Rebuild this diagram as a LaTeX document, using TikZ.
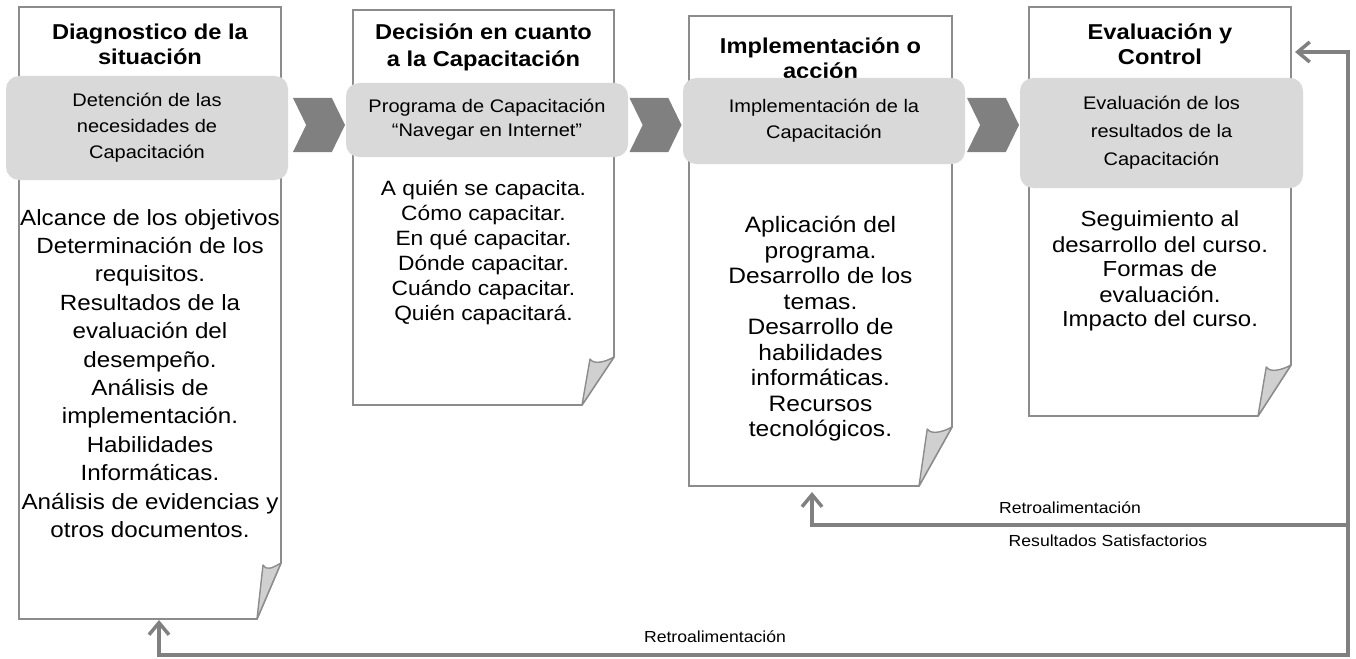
\documentclass[tikz,border=0pt]{standalone}
\usepackage{fontspec}
\setmainfont{Liberation Sans}[FakeStretch=1.1]
\usepackage{tikz}
\usetikzlibrary{shapes.symbols, arrows.meta, calc}

\definecolor{edgegray}{HTML}{8C8C8C}
\definecolor{bandgray}{HTML}{D9D9D9}
\definecolor{chevgray}{HTML}{808080}
\definecolor{flapgray}{HTML}{D0D0D0}

% page outline with a turned-up corner: node, fold width, fold height
\newcommand{\dogear}[3]{%
  \coordinate (#1_p) at ($(#1.south east)+(0,-#3)$);
  \coordinate (#1_b) at ($(#1.south east)+(-#2,0)$);
  \draw[page line] (#1.north west) -- (#1.north east) -- (#1_p) -- (#1_b) -- (#1.south west) -- cycle;
  \filldraw[flap] (#1_b) -- ($(#1_p)+(-0.75*#2,2)$) .. controls +(4,6) and +(-9,5) .. (#1_p) -- cycle;
}

\begin{document}
\begin{tikzpicture}[
  x=1pt, y=-1pt,
  page/.style={rectangle, inner sep=0pt, outer sep=0pt},
  page line/.style={draw=edgegray, line width=1.6pt, fill=white, line join=miter},
  flap/.style={draw=edgegray, line width=1.4pt, fill=flapgray, line join=round},
  band/.style={rectangle, rounded corners=13pt, fill=bandgray, align=center, inner sep=0pt, font=\fontsize{18.2}{26}\selectfont},
  chev/.style={signal, signal to=east, signal from=west, signal pointer angle=128, fill=chevgray, minimum width=52pt, minimum height=54pt, inner sep=0pt, outer sep=0pt},
  title/.style={anchor=north, align=center, inner sep=0pt, font=\fontsize{21.5}{25}\selectfont\bfseries},
  body/.style={anchor=north, align=center, inner sep=0pt},
  note/.style={inner sep=0pt, font=\fontsize{16}{18}\selectfont},
  fb/.style={draw=chevgray, line width=3.5pt, line join=miter},
  fbtip/.tip={Straight Barb[length=12pt, width=20pt]}
]
\useasboundingbox (0,0) rectangle (1356,658);

% pages
\node (diag_box) [page, minimum width=262pt, minimum height=612pt] at (150,313) {};
\node (deci_box) [page, minimum width=261pt, minimum height=395pt] at (483.5,207.5) {};
\node (impl_box) [page, minimum width=263pt, minimum height=470pt] at (820.5,251) {};
\node (eval_box) [page, minimum width=262pt, minimum height=409pt] at (1160,211.5) {};
\dogear{diag_box}{24}{56}
\dogear{deci_box}{32}{48}
\dogear{impl_box}{33}{59}
\dogear{eval_box}{33}{51}

% titles
\node (diag_title) [title] at (150,24) {Diagnostico de la\\situación};
\node (deci_title) [title, font=\fontsize{21.5}{27}\selectfont\bfseries] at (483.5,24) {Decisión en cuanto\\a la Capacitación};
\node (impl_title) [title] at (820.5,38) {Implementación o\\acción};
\node (eval_title) [title] at (1160,24) {Evaluación y\\Control};

% grey bands
\node (diag_band) [band, minimum width=282pt, minimum height=104pt] at (147,128) {Detención de las\\necesidades de\\Capacitación};
\node (deci_band) [band, minimum width=282pt, minimum height=74pt, font=\fontsize{18.2}{24}\selectfont] at (487,120) {Programa de Capacitación\\“Navegar en Internet”};
\node (impl_band) [band, minimum width=282pt, minimum height=86pt] at (824,121) {Implementación de la\\Capacitación};
\node (eval_band) [band, minimum width=283pt, minimum height=110pt, font=\fontsize{18.2}{28}\selectfont] at (1161.5,133) {Evaluación de los\\resultados de la\\Capacitación};

% chevrons
\node (chev_a) [chev] at (319,125) {};
\node (chev_b) [chev] at (655.5,125) {};
\node (chev_c) [chev] at (993,125) {};

% lists
\node (diag_list) [body, font=\fontsize{22}{28.4}\selectfont] at (150,209) {Alcance de los objetivos\\Determinación de los\\requisitos.\\Resultados de la\\evaluación del\\desempeño.\\Análisis de\\implementación.\\Habilidades\\Informáticas.\\Análisis de evidencias y\\otros documentos.};
\node (deci_list) [body, font=\fontsize{20.7}{25}\selectfont] at (483.5,180) {A quién se capacita.\\Cómo capacitar.\\En qué capacitar.\\Dónde capacitar.\\Cuándo capacitar.\\Quién capacitará.};
\node (impl_list) [body, font=\fontsize{22.3}{25.5}\selectfont] at (820.5,216) {Aplicación del\\programa.\\Desarrollo de los\\temas.\\Desarrollo de\\habilidades\\informáticas.\\Recursos\\tecnológicos.};
\node (eval_list) [body, font=\fontsize{21.8}{25}\selectfont] at (1160,211) {Seguimiento al\\desarrollo del curso.\\Formas de\\evaluación.\\Impacto del curso.};

% feedback
\coordinate (loop_corner) at (1348,655);
\coordinate (loop_join) at (1348,525);
\draw[fb, fbtip-fbtip] ($(eval_box.north east)+(4,45)$) -| (loop_corner) -| ([xshift=9pt, yshift=-1pt]diag_box.south);
\draw[fb, -fbtip] (loop_join) -| ([xshift=-8.5pt, yshift=-6pt]impl_box.south);

\node (fb_top) [note] at (1070,508) {Retroalimentación};
\node (fb_ok) [note] at (1108,541) {Resultados Satisfactorios};
\node (fb_low) [note] at (715,637) {Retroalimentación};
\end{tikzpicture}
\end{document}
